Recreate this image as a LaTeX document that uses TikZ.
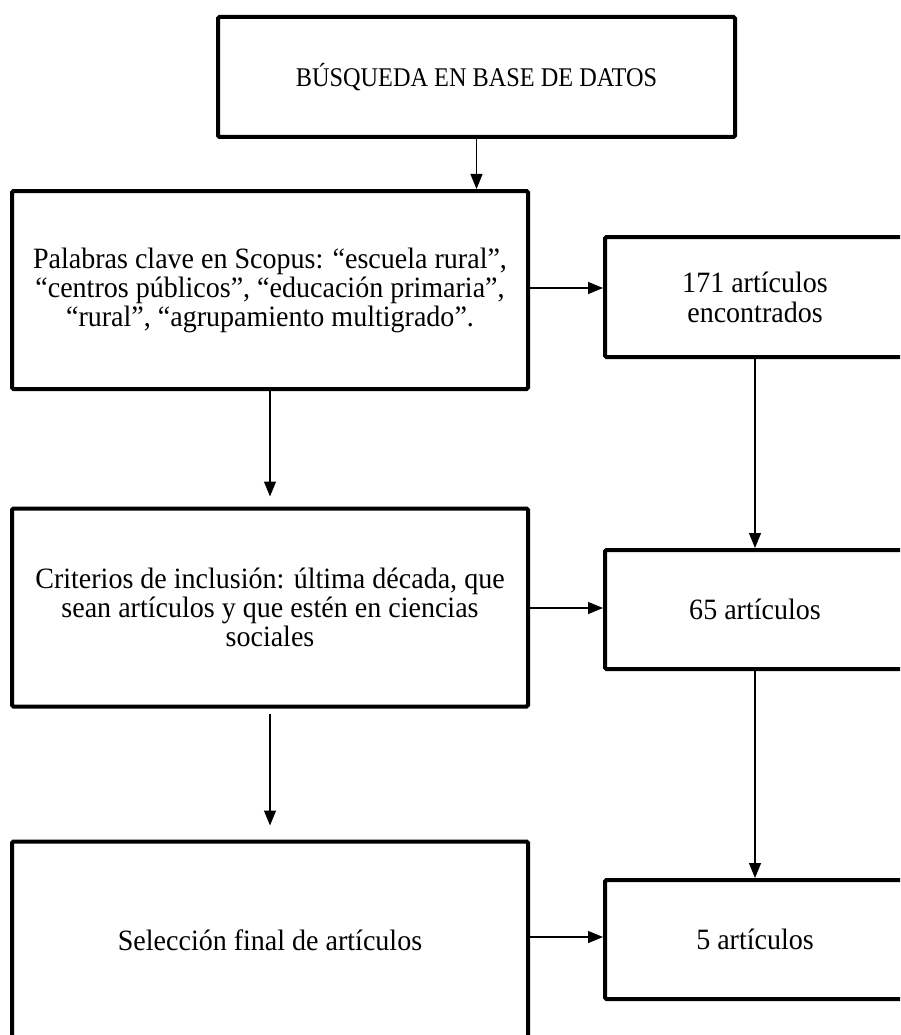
\documentclass[tikz,border=0pt]{standalone}
\usepackage{fontspec}
\setmainfont[FakeStretch=0.95]{Liberation Serif}
\newfontfamily\capsfont[FakeStretch=0.9]{Liberation Serif}
\usetikzlibrary{arrows.meta}
\newcommand{\boxfont}{\fontsize{29.5}{28}\selectfont}
\begin{document}
\begin{tikzpicture}[x=1pt,y=-1pt,
  box/.style={draw, line width=4pt, rounded corners=1.5pt, inner sep=0pt,
    align=center, font=\boxfont},
  wide/.style={box, minimum width=516pt, minimum height=198pt},
  small/.style={box, minimum width=300pt, minimum height=119pt},
  arr/.style={line width=1.2pt, -{Triangle[length=15pt,width=12pt]}}]
\useasboundingbox (0,0) rectangle (900,1035);
\clip (0,0) rectangle (900,1035);
\node[box, minimum width=517pt, minimum height=120pt] (top) at (476.5,77)
  {{\capsfont\fontsize{27}{27}\selectfont BÚSQUEDA EN BASE DE DATOS}};
\node[wide] (kw) at (270,290)
  {Palabras clave en Scopus: “escuela rural”,\\[1pt]“centros públicos”, “educación primaria”,\\[1pt]“rural”, “agrupamiento multigrado”.};
\node[small, minimum height=120pt] (r1) at (755,297) {171 artículos\\[2pt]encontrados};
\node[wide] (crit) at (270,607.5)
  {Criterios de inclusión: última década, que\\[1pt]sean artículos y que estén en ciencias\\[1pt]sociales};
\node[small] (r2) at (755,609.5) {65 artículos};
\node[wide] (sel) at (270,940.5) {Selección final de artículos};
\node[small] (r3) at (755,939.5) {5 artículos};
\draw[arr] (top.south) -- (top.south |- kw.north);
\draw[arr] (kw.east |- 0,288) -- (r1.west |- 0,288);
\draw[arr, shorten >=10pt] (kw.south) -- (crit.north);
\draw[arr] (r1.south) -- (r2.north);
\draw[arr] (crit.east |- 0,608) -- (r2.west |- 0,608);
\draw[arr, shorten <=5pt, shorten >=14pt] (crit.south) -- (sel.north);
\draw[arr] (r2.south) -- (r3.north);
\draw[arr] (sel.east |- 0,937) -- (r3.west |- 0,937);
\end{tikzpicture}
\end{document}
